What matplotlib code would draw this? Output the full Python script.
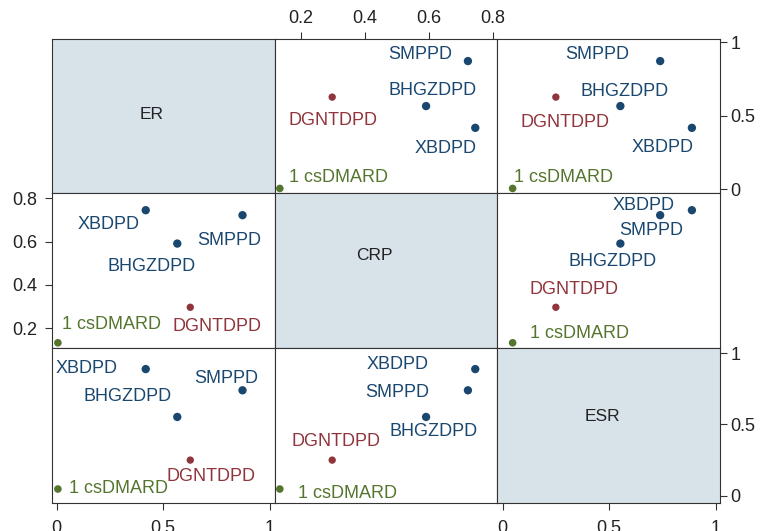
import matplotlib
matplotlib.use("Agg")
import matplotlib.pyplot as plt

plt.rcParams['font.family'] = ['Liberation Sans', 'DejaVu Sans']

# treatment groups and their (scaled) scores on the three markers
treatments = ["1 csDMARD", "DGNTDPD", "BHGZDPD", "SMPPD", "XBDPD"]
er = [0.006, 0.627, 0.566, 0.872, 0.418]
crp = [0.133, 0.297, 0.591, 0.722, 0.745]
esr = [0.047, 0.250, 0.553, 0.740, 0.889]

var_names = ["ER", "CRP", "ESR"]
er_ticks = [0, 0.5, 1]
crp_ticks = [0.2, 0.4, 0.6, 0.8]
esr_ticks = [0, 0.5, 1]
er_tick_labels = ["0", "0.5", "1"]
crp_tick_labels = ["0.2", "0.4", "0.6", "0.8"]
esr_tick_labels = ["0", "0.5", "1"]

values = {"ER": er, "CRP": crp, "ESR": esr}
ticks = {"ER": (er_ticks, er_tick_labels),
         "CRP": (crp_ticks, crp_tick_labels),
         "ESR": (esr_ticks, esr_tick_labels)}

# axis ranges per variable
xlims = {"ER": (-0.024, 1.023), "CRP": (0.117, 0.814), "ESR": (-0.025, 1.021)}
ylims = {"ER": (-0.027, 1.020), "CRP": (0.109, 0.823), "ESR": (-0.049, 1.037)}

navy = "#1a476f"
maroon = "#90353b"
green = "#55752f"
colors = [green, maroon, navy, navy, navy]
sizes = [30, 28, 36, 36, 36]
diag_fill = "#d7e2e9"
line_col = "#333333"

# marker label offsets (pixels, label centre relative to point) for each panel
label_offsets = {
    (0, 1): [(59, 13), (1, -21), (6, 18), (-48, 9), (-30, -19)],
    (0, 2): [(51, 13), (9, -23), (4, 17), (-63, 9), (-29, -18)],
    (1, 0): [(54, 20), (27, -17), (-26, -21), (-13, -23), (-37, -12)],
    (1, 2): [(67, 11), (18, 20), (-8, -16), (-9, -13), (-48, 7)],
    (2, 0): [(61, 3), (21, -14), (-50, 22), (-16, 14), (-59, 3)],
    (2, 1): [(68, -2), (4, 21), (7, -13), (-71, 0), (-78, 7)],
}

# where the variable name sits in the diagonal cells (axes fraction)
diag_text_pos = {"ER": (0.45, 0.51), "CRP": (0.45, 0.595), "ESR": (0.47, 0.56)}

W, H = 761, 531
col_edges = [51.5, 274.7, 497.3, 720.0]
row_edges = [39.3, 193.3, 348.0, 502.7]

fig = plt.figure(figsize=(W / 100, H / 100), dpi=100)

for r, yvar in enumerate(var_names):
    for c, xvar in enumerate(var_names):
        left = col_edges[c] / W
        width = (col_edges[c + 1] - col_edges[c]) / W
        bottom = 1 - row_edges[r + 1] / H
        height = (row_edges[r + 1] - row_edges[r]) / H
        ax = fig.add_axes([left, bottom, width, height])
        ax.set_xlim(xlims[xvar])
        ax.set_ylim(ylims[yvar])
        for sp in ax.spines.values():
            sp.set_color(line_col)
            sp.set_linewidth(0.8)

        if r == c:
            ax.set_facecolor(diag_fill)
            tx, ty = diag_text_pos[xvar]
            ax.text(tx, ty, xvar, transform=ax.transAxes, ha='center',
                    va='center', fontsize=12.5, color='#222222')
        else:
            xs = values[xvar]
            ys = values[yvar]
            offs = label_offsets[(r, c)]
            for i, name in enumerate(treatments):
                ax.scatter(xs[i], ys[i], s=sizes[i], color=colors[i],
                           edgecolors='none', zorder=3)
                dx, dy = offs[i]
                ax.annotate(name, (xs[i], ys[i]), xytext=(dx, dy - 6.5),
                            textcoords='offset pixels', ha='center',
                            va='baseline', fontsize=13, color=colors[i])

        ax.set_xticks([])
        ax.set_yticks([])
        ax.tick_params(direction='out', length=4.7, width=0.8, colors=line_col,
                       labelcolor='#222222', labelsize=13, pad=3)

        # axes alternate sides like a stata graph matrix
        if c == 1 and r == 0:
            t, lab = ticks[xvar]
            ax.xaxis.tick_top()
            ax.set_xticks(t, lab)
            ax.tick_params(axis='x', pad=4)
        if c in (0, 2) and r == 2:
            t, lab = ticks[xvar]
            ax.set_xticks(t, lab)
            ax.tick_params(axis='x', pad=7.5)
        if r == 1 and c == 0:
            t, lab = ticks[yvar]
            ax.set_yticks(t, lab)
            ax.tick_params(axis='y', pad=5.5)
        if r in (0, 2) and c == 2:
            t, lab = ticks[yvar]
            ax.yaxis.tick_right()
            ax.set_yticks(t, lab)
            ax.tick_params(axis='y', pad=3)

fig.savefig("out.png", dpi=100)
